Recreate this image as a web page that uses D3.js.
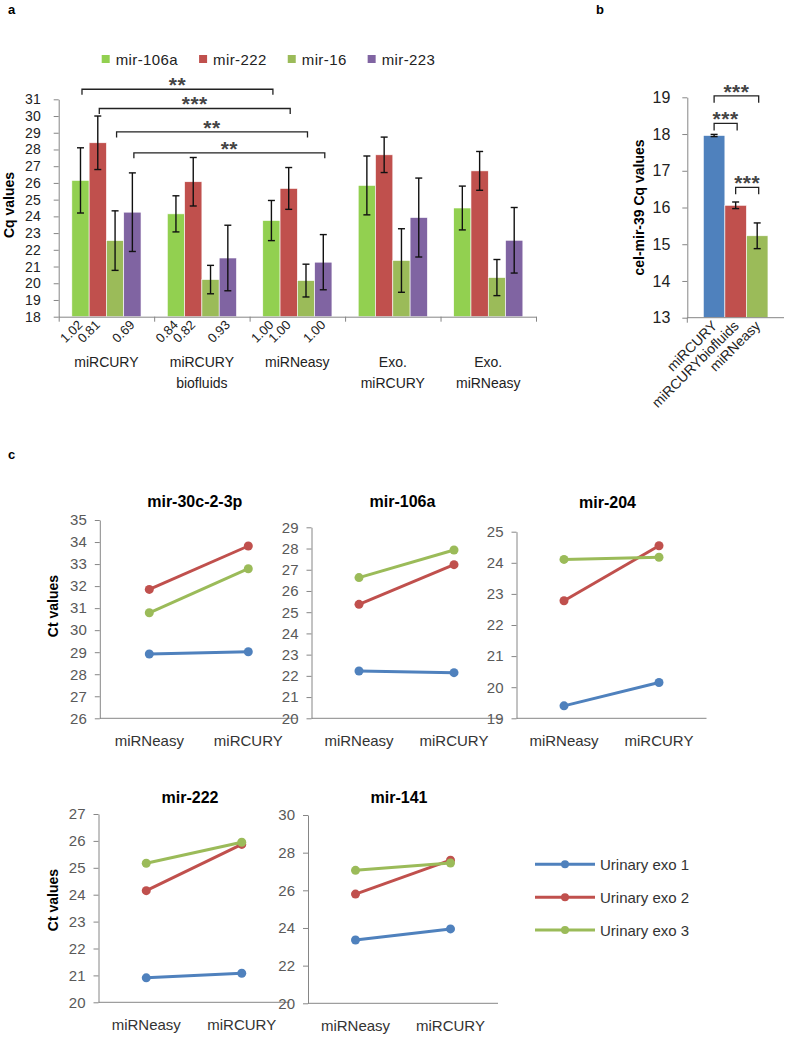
<!DOCTYPE html>
<html>
<head>
<meta charset="utf-8">
<script src="https://cdn.jsdelivr.net/npm/d3@7"></script>
<style>
  body { margin: 0; background: #fff; }
  svg { display: block; font-family: "Liberation Sans", Arial, sans-serif; }
</style>
</head>
<body>
<svg id="chart" width="787" height="1037"></svg>
<script>
// ---------------- data : panel a ----------------
const groupsA = ["miRCURY", "miRCURY biofluids", "miRNeasy", "Exo. miRCURY", "Exo. miRNeasy"];
const groupLinesA = [["miRCURY"], ["miRCURY", "biofluids"], ["miRNeasy"], ["Exo.", "miRCURY"], ["Exo.", "miRNeasy"]];
const seriesA = ["mir-106a", "mir-222", "mir-16", "mir-223"];
const colorsA = ["#92D050", "#C0504D", "#9BBB59", "#8064A2"];
const mir106a = [26.15, 24.15, 23.75, 25.85, 24.5];
const mir106aErr = [1.95, 1.08, 1.2, 1.76, 1.31];
const mir222 = [28.4, 26.07, 25.67, 27.68, 26.72];
const mir222Err = [1.6, 1.45, 1.25, 1.06, 1.16];
const mir16 = [22.55, 20.22, 20.16, 21.36, 20.34];
const mir16Err = [1.78, 0.85, 0.98, 1.9, 1.08];
const mir223 = [24.25, 21.51, 21.26, 23.93, 22.57];
const mir223Err = [2.35, 1.96, 1.65, 2.36, 1.96];
const ticksA = d3.range(18, 32, 1);
// ratio labels under the first three groups (none under mir-16)
const ratiosA = [["1.02", "0.81", null, "0.69"], ["0.84", "0.82", null, "0.93"], ["1.00", "1.00", null, "1.00"], null, null];
// significance: same series, miRCURY vs miRNeasy
const sigSeriesA = ["mir-106a", "mir-222", "mir-16", "mir-223"];
const sigLevelA = [31.6, 30.45, 29.05, 27.8];
const sigStarsA = ["**", "***", "**", "**"];

// ---------------- data : panel b ----------------
const catsB = ["miRCURY", "miRCURYbiofluids", "miRNeasy"];
const celMir39 = [17.96, 16.06, 15.23];
const celMir39Err = [0.03, 0.09, 0.35];
const colorsB = ["#4F81BD", "#C0504D", "#9BBB59"];
const ticksB = d3.range(13, 20, 1);
const sigPairsB = [["miRCURY", "miRNeasy"], ["miRCURY", "miRCURYbiofluids"], ["miRCURYbiofluids", "miRNeasy"]];
const sigLevelB = [19.04, 18.29, 16.55];
const sigStarsB = ["***", "***", "***"];

// ---------------- data : panel c ----------------
const ctCats = ["miRNeasy", "miRCURY"];
const exoNames = ["Urinary exo 1", "Urinary exo 2", "Urinary exo 3"];
const exoColors = ["#4F81BD", "#C0504D", "#9BBB59"];
const mir30cCt = [[28.92, 29.02], [31.85, 33.82], [30.79, 32.79]];
const mir106aCt = [[22.23, 22.15], [25.37, 27.24], [26.63, 27.93]];
const mir204Ct = [[19.4, 20.15], [22.78, 24.55], [24.11, 24.18]];
const mir222Ct = [[20.91, 21.08], [24.15, 25.87], [25.17, 25.95]];
const mir141Ct = [[23.36, 23.95], [25.8, 27.6], [27.06, 27.45]];

const svg = d3.select("#chart");
const AXIS = "#868686";
const intFmt = d3.format("d");

function styleAxis(g, textColor, size) {
  g.select(".domain").attr("stroke", AXIS).attr("stroke-width", 1);
  g.selectAll(".tick line").attr("stroke", AXIS);
  g.selectAll(".tick text").attr("fill", textColor).style("font-size", size + "px").attr("font-family", null);
}

function errorBar(g, cx, yTop, yBot, cap) {
  g.append("line").attr("x1", cx).attr("x2", cx).attr("y1", yTop).attr("y2", yBot);
  g.append("line").attr("x1", cx - cap).attr("x2", cx + cap).attr("y1", yTop).attr("y2", yTop);
  g.append("line").attr("x1", cx - cap).attr("x2", cx + cap).attr("y1", yBot).attr("y2", yBot);
}

function bracket(g, x1, x2, y, drop, stars) {
  g.append("path")
    .attr("d", `M${x1},${y + drop}V${y}H${x2}V${y + drop}`)
    .attr("fill", "none").attr("stroke", "#222").attr("stroke-width", 1.3);
  g.append("text")
    .attr("x", (x1 + x2) / 2).attr("y", y + 3)
    .attr("text-anchor", "middle").attr("fill", "#444")
    .style("font-size", "21px").style("font-weight", "bold").style("letter-spacing", "0.5px")
    .text(stars);
}

// panel letters
svg.append("text").attr("x", 8).attr("y", 14).style("font-size", "13px").style("font-weight", "bold").text("a");
svg.append("text").attr("x", 596).attr("y", 14).style("font-size", "13px").style("font-weight", "bold").text("b");
svg.append("text").attr("x", 8).attr("y", 459).style("font-size", "13px").style("font-weight", "bold").text("c");

// ======================= panel a =======================
(function () {
  const values = [mir106a, mir222, mir16, mir223];
  const errs = [mir106aErr, mir222Err, mir16Err, mir223Err];
  const y = d3.scaleLinear().domain([18, 31]).range([316.7, 99.3]);
  const x0 = d3.scaleBand().domain(groupsA).range([58.7, 536]);
  const x1 = d3.scaleBand().domain(seriesA).range([0, x0.bandwidth()]).paddingOuter(0.76);
  const edge = d3.scaleLinear().domain([0, groupsA.length]).range(x0.range());
  const g = svg.append("g");
  const cx = (grp, s) => x0(grp) + x1(s) + x1.bandwidth() / 2;

  // legend
  let lx = 101.7;
  seriesA.forEach((s, i) => {
    g.append("rect").attr("x", lx).attr("y", 55).attr("width", 8).attr("height", 8).attr("fill", colorsA[i]);
    const t = g.append("text").attr("x", lx + 14).attr("y", 64.5).attr("fill", "#222")
      .style("font-size", "15px").style("letter-spacing", "0.4px").text(s);
    lx += 14 + t.node().getComputedTextLength() + 21;
  });

  // bars
  groupsA.forEach((grp, gi) => {
    seriesA.forEach((s, si) => {
      const v = values[si][gi];
      g.append("rect")
        .attr("x", x0(grp) + x1(s)).attr("width", x1.bandwidth())
        .attr("y", y(v)).attr("height", y(18) - y(v))
        .attr("fill", colorsA[si]).attr("stroke", "#fff").attr("stroke-width", 0.6);
    });
  });

  // error bars
  const eg = g.append("g").attr("stroke", "#111").attr("stroke-width", 1.4);
  groupsA.forEach((grp, gi) => {
    seriesA.forEach((s, si) => {
      const v = values[si][gi], e = errs[si][gi];
      errorBar(eg, cx(grp, s), y(v + e), y(v - e), 3.5);
    });
  });

  // axes
  const ay = g.append("g").attr("transform", "translate(58.7,0)")
    .call(d3.axisLeft(y).tickValues(ticksA).tickFormat(intFmt).tickSize(5).tickSizeOuter(0).tickPadding(13));
  styleAxis(ay, "#222", 14);
  const ax = g.append("g").attr("transform", `translate(0,${y(18)})`)
    .call(d3.axisBottom(edge).tickValues(d3.range(0, groupsA.length + 1)).tickFormat("").tickSize(5).tickSizeOuter(0));
  styleAxis(ax, "#222", 14);

  // ratio labels
  ratiosA.forEach((row, gi) => {
    if (!row) return;
    row.forEach((lab, si) => {
      if (!lab) return;
      g.append("text")
        .attr("transform", `translate(${cx(groupsA[gi], seriesA[si]) + 3},${y(18) + 9}) rotate(-45)`)
        .attr("text-anchor", "end").attr("fill", "#222").style("font-size", "13px").text(lab);
    });
  });

  // category labels
  groupLinesA.forEach((lines, gi) => {
    const t = g.append("text").attr("text-anchor", "middle").attr("fill", "#222").style("font-size", "14px");
    lines.forEach((ln, li) => {
      t.append("tspan").attr("x", x0(groupsA[gi]) + x0.bandwidth() / 2).attr("y", 366.5 + li * 21.5).text(ln);
    });
  });

  // y title
  g.append("text").attr("transform", "translate(14,205) rotate(-90)").attr("text-anchor", "middle")
    .style("font-size", "14px").style("font-weight", "bold").text("Cq values");

  // significance
  sigSeriesA.forEach((s, i) => {
    bracket(g, cx(groupsA[0], s) + 1.5, cx(groupsA[2], s) + 1.5, y(sigLevelA[i]), 5.5, sigStarsA[i]);
  });
})();

// ======================= panel b =======================
(function () {
  const y = d3.scaleLinear().domain([13, 19]).range([317.7, 97.3]);
  const x = d3.scaleBand().domain(catsB).range([687.3, 784]).paddingInner(0).paddingOuter(0.745);
  const g = svg.append("g");
  const cx = c => x(c) + x.bandwidth() / 2;

  catsB.forEach((c, i) => {
    g.append("rect").attr("x", x(c)).attr("width", x.bandwidth())
      .attr("y", y(celMir39[i])).attr("height", y(13) - y(celMir39[i]))
      .attr("fill", colorsB[i]).attr("stroke", "#fff").attr("stroke-width", 0.6);
  });
  const eg = g.append("g").attr("stroke", "#111").attr("stroke-width", 1.4);
  catsB.forEach((c, i) => {
    errorBar(eg, cx(c), y(celMir39[i] + celMir39Err[i]), y(celMir39[i] - celMir39Err[i]), 3.5);
  });

  const ay = g.append("g").attr("transform", "translate(687.3,0)")
    .call(d3.axisLeft(y).tickValues(ticksB).tickFormat(intFmt).tickSize(5).tickSizeOuter(0).tickPadding(12));
  styleAxis(ay, "#222", 16);
  g.append("line").attr("x1", 687.3).attr("x2", 784).attr("y1", y(13)).attr("y2", y(13)).attr("stroke", AXIS);
  g.append("line").attr("x1", 687.3).attr("x2", 687.3).attr("y1", y(13)).attr("y2", y(13) + 5).attr("stroke", AXIS);

  catsB.forEach(c => {
    g.append("text")
      .attr("transform", `translate(${cx(c) + 4},${y(13) + 9}) rotate(-45)`)
      .attr("text-anchor", "end").attr("fill", "#222").style("font-size", "14px").text(c);
  });

  g.append("text").attr("transform", "translate(644,207.5) rotate(-90)").attr("text-anchor", "middle")
    .style("font-size", "14px").style("font-weight", "bold").text("cel-mir-39 Cq values");

  sigPairsB.forEach((p, i) => {
    bracket(g, cx(p[0]), cx(p[1]) + 1.5, y(sigLevelB[i]), 7, sigStarsB[i]);
  });
})();

// ======================= panel c =======================
function lineChart(cfg) {
  const g = svg.append("g");
  const x = d3.scalePoint().domain(ctCats).range([cfg.x0, cfg.x1]).padding(0.5);
  const y = d3.scaleLinear().domain(cfg.domain).range([cfg.yBottom, cfg.yTop]);

  const ay = g.append("g").attr("transform", `translate(${cfg.x0},0)`)
    .call(d3.axisLeft(y).tickValues(d3.range(cfg.domain[0], cfg.domain[1] + cfg.step / 2, cfg.step))
      .tickFormat(intFmt).tickSize(5).tickSizeOuter(0).tickPadding(8));
  styleAxis(ay, "#595959", 15);
  g.append("line").attr("x1", cfg.x0).attr("x2", cfg.x1).attr("y1", cfg.yBottom).attr("y2", cfg.yBottom)
    .attr("stroke", AXIS);

  ctCats.forEach(c => {
    g.append("text").attr("x", x(c)).attr("y", cfg.yBottom + 28).attr("text-anchor", "middle")
      .attr("fill", "#333").style("font-size", "15px").text(c);
  });

  const line = d3.line().x((d, i) => x(ctCats[i])).y(d => y(d));
  cfg.data.forEach((vals, k) => {
    g.append("path").datum(vals).attr("d", line).attr("fill", "none")
      .attr("stroke", exoColors[k]).attr("stroke-width", 3);
    vals.forEach((v, i) => {
      g.append("circle").attr("cx", x(ctCats[i])).attr("cy", y(v)).attr("r", 4.5).attr("fill", exoColors[k]);
    });
  });

  g.append("text").attr("x", (cfg.x0 + cfg.x1) / 2 - 4).attr("y", cfg.titleY).attr("text-anchor", "middle")
    .style("font-size", "16px").style("font-weight", "bold").text(cfg.title);

  if (cfg.yLabel) {
    g.append("text").attr("transform", `translate(58,${cfg.labelY}) rotate(-90)`).attr("text-anchor", "middle")
      .style("font-size", "14px").style("font-weight", "bold").text("Ct values");
  }
}

lineChart({ title: "mir-30c-2-3p", data: mir30cCt, domain: [26, 35], step: 1,
  x0: 99.8, x1: 297.8, yTop: 520, yBottom: 718.3, titleY: 507, yLabel: true, labelY: 606 });
lineChart({ title: "mir-106a", data: mir106aCt, domain: [20, 29], step: 1,
  x0: 311.5, x1: 501.5, yTop: 527.3, yBottom: 718.3, titleY: 507 });
lineChart({ title: "mir-204", data: mir204Ct, domain: [19, 25], step: 1,
  x0: 516.5, x1: 706.5, yTop: 531.7, yBottom: 718.3, titleY: 508 });
lineChart({ title: "mir-222", data: mir222Ct, domain: [20, 27], step: 1,
  x0: 98.5, x1: 289.5, yTop: 814, yBottom: 1002.3, titleY: 803, yLabel: true, labelY: 900 });
lineChart({ title: "mir-141", data: mir141Ct, domain: [20, 30], step: 2,
  x0: 308, x1: 498, yTop: 815, yBottom: 1003.3, titleY: 803 });

// legend c
(function () {
  const g = svg.append("g");
  const rowY = d3.scalePoint().domain(exoNames).range([864.3, 930]);
  exoNames.forEach((n, i) => {
    const yy = rowY(n);
    g.append("line").attr("x1", 535).attr("x2", 595).attr("y1", yy).attr("y2", yy)
      .attr("stroke", exoColors[i]).attr("stroke-width", 3);
    g.append("circle").attr("cx", 565).attr("cy", yy).attr("r", 4).attr("fill", exoColors[i]);
    g.append("text").attr("x", 600).attr("y", yy + 5.5).attr("fill", "#333").style("font-size", "15px").text(n);
  });
})();
</script>
</body>
</html>
